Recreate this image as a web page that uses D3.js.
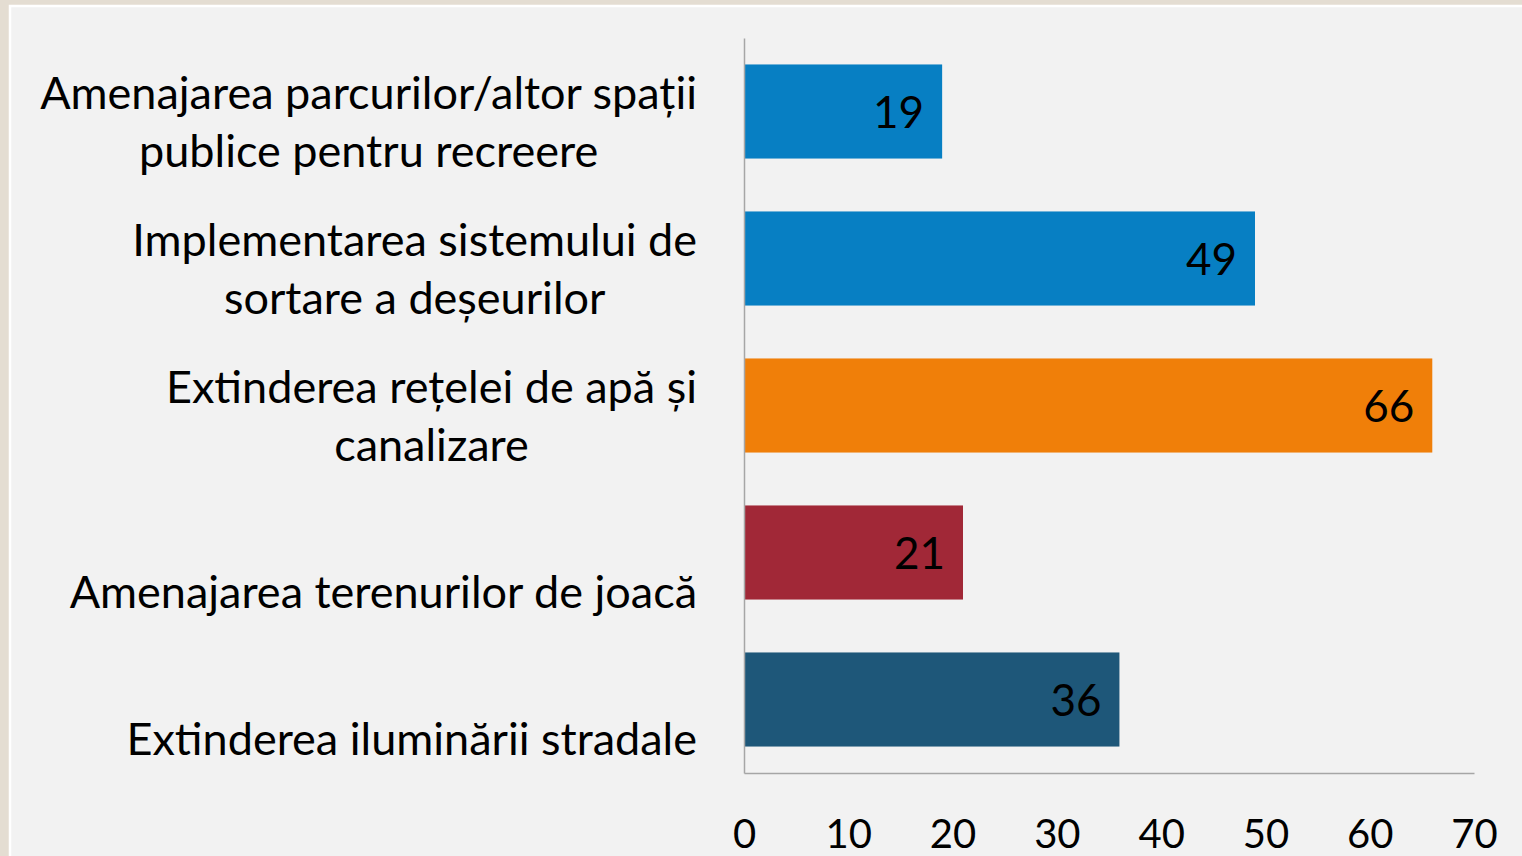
<!DOCTYPE html>
<html>
<head>
<meta charset="utf-8">
<script src="https://cdn.jsdelivr.net/npm/d3@7"></script>
<style>
  html, body { margin: 0; padding: 0; background: #e4ddd2; overflow: hidden; }
  svg { display: block; }
  text { font-family: Lato, "Noto Sans", sans-serif; fill: #000; }
</style>
</head>
<body>
<div class="chart"></div>
<script>
// categories top to bottom, label lines as in the original
var categories = [
  ["Amenajarea parcurilor/altor spații", "publice pentru recreere"],
  ["Implementarea sistemului de", "sortare a deșeurilor"],
  ["Extinderea rețelei de apă și", "canalizare"],
  ["Amenajarea terenurilor de joacă"],
  ["Extinderea iluminării stradale"]
];
var values = [19, 49, 66, 21, 36];
var barColors = ["#077fc3", "#077fc3", "#f07f09", "#a12837", "#1e5779"];
var tickValues = [0, 10, 20, 30, 40, 50, 60, 70];

var W = 1522, H = 856;
var margin = {top: 38, right: 48, bottom: 83, left: 744};
var width = W - margin.left - margin.right,
    height = H - margin.top - margin.bottom;

var svg = d3.select(".chart").append("svg")
    .attr("width", W)
    .attr("height", H);

// slide panel
svg.append("rect")
    .attr("x", 10).attr("y", 6)
    .attr("width", W).attr("height", H)
    .attr("fill", "#f2f2f2")
    .attr("stroke", "#ffffff")
    .attr("stroke-width", 2.5);

var g = svg.append("g")
    .attr("transform", "translate(" + margin.left + "," + margin.top + ")");

var x = d3.scaleLinear().domain([0, 70]).range([0, width]);
var y = d3.scaleBand()
    .domain(d3.range(values.length))
    .range([0, height])
    .paddingInner(0.36)
    .paddingOuter(0.18);

// bars
g.selectAll(".bar")
    .data(values)
    .enter().append("rect")
    .attr("class", "bar")
    .attr("x", x(0))
    .attr("y", function(d, i) { return y(i); })
    .attr("width", function(d) { return x(d) - x(0); })
    .attr("height", y.bandwidth())
    .attr("fill", function(d, i) { return barColors[i]; });

// value labels, inside end
g.selectAll(".val")
    .data(values)
    .enter().append("text")
    .attr("class", "val")
    .attr("x", function(d) { return x(d) - 18; })
    .attr("y", function(d, i) { return y(i) + y.bandwidth() / 2 + 16; })
    .attr("text-anchor", "end")
    .style("font-size", "44px")
    .text(function(d) { return d; });

// axes
var xAxis = d3.axisBottom(x).tickValues(tickValues).tickSize(0).tickPadding(0);
var gx = g.append("g")
    .attr("transform", "translate(0," + height + ")")
    .call(xAxis);
gx.select(".domain").attr("stroke", "#a6a6a6").attr("stroke-width", 1.5);
gx.selectAll(".tick text")
    .attr("y", 75)
    .attr("dy", null)
    .style("font-size", "40px")
    .style("font-family", "Lato, sans-serif");

var yAxis = d3.axisLeft(y).tickSize(0).tickFormat("");
var gy = g.append("g").call(yAxis);
gy.select(".domain").attr("stroke", "#a6a6a6").attr("stroke-width", 1.5);

// category labels: block right-aligned next to the axis, lines centred inside it,
// last line sits below the band centre like the original
var lineH = 58, labelRight = -47;
g.selectAll(".cat")
    .data(categories)
    .enter().append("text")
    .attr("class", "cat")
    .attr("text-anchor", "middle")
    .style("font-size", "45px")
    .each(function(lines, i) {
        var t = d3.select(this);
        var base = y(i) + y.bandwidth() / 2 + 55;
        var n = lines.length;
        var spans = t.selectAll("tspan")
            .data(lines)
            .enter().append("tspan")
            .attr("y", function(l, k) { return base - (n - 1 - k) * lineH; })
            .text(function(l) { return l; });
        var maxW = d3.max(spans.nodes(), function(s) { return s.getComputedTextLength(); });
        spans.attr("x", labelRight - maxW / 2);
    });
</script>
</body>
</html>
